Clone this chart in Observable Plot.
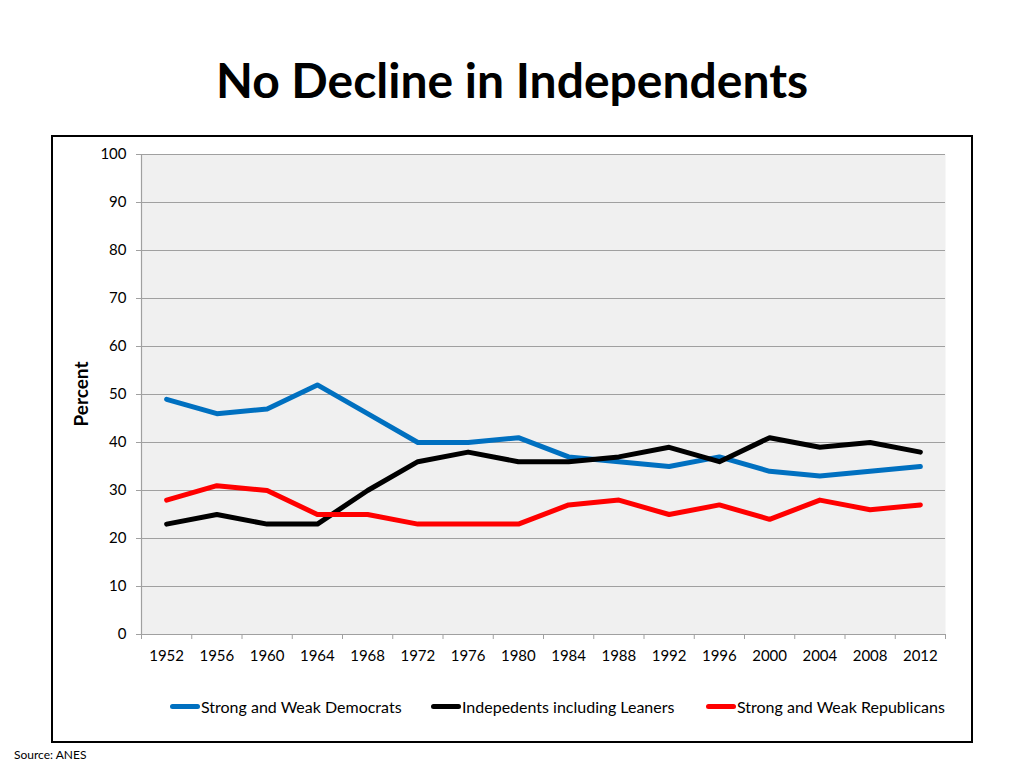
<!DOCTYPE html>
<html>
<head>
<meta charset="utf-8">
<script src="https://cdn.jsdelivr.net/npm/d3@7"></script>
<script src="https://cdn.jsdelivr.net/npm/@observablehq/plot@0.6"></script>
<style>
  body { margin: 0; background: #fff; font-family: Lato, "Open Sans", sans-serif; }
  #page { position: relative; width: 1024px; height: 768px; overflow: hidden; }
  #title { position: absolute; left: 0; width: 1024px; top: 51px; text-align: center; font-weight: bold; font-size: 48px; color: #000; }
  #box { position: absolute; left: 51px; top: 135px; width: 918px; height: 604px; border: 2px solid #000; }
  #chart { position: absolute; left: 52px; top: 136px; }
  #ylabel { position: absolute; left: 80px; top: 394px; transform: translate(-50%, -50%) rotate(-90deg); font-weight: bold; font-size: 19px; white-space: nowrap; }
  #legend { position: absolute; top: 697px; left: 0; width: 1024px; height: 20px; font-size: 16px; }
  .item { position: absolute; display: flex; align-items: center; white-space: nowrap; }
  .sw { width: 30px; height: 5px; border-radius: 3px; margin-right: 1px; }
  #source { position: absolute; left: 14px; top: 747px; font-size: 12px; }
</style>
</head>
<body>
<div id="page">
  <div id="title">No Decline in Independents</div>
  <div id="box"></div>
  <div id="chart"></div>
  <div id="ylabel">Percent</div>
  <div id="legend"></div>
  <div id="source">Source: ANES</div>
</div>
<script>
const years = [1952, 1956, 1960, 1964, 1968, 1972, 1976, 1980, 1984, 1988, 1992, 1996, 2000, 2004, 2008, 2012];
const seriesNames = ["Strong and Weak Democrats", "Indepedents including Leaners", "Strong and Weak Republicans"];
const democrats    = [49, 46, 47, 52, 46, 40, 40, 41, 37, 36, 35, 37, 34, 33, 34, 35];
const independents = [23, 25, 23, 23, 30, 36, 38, 36, 36, 37, 39, 36, 41, 39, 40, 38];
const republicans  = [28, 31, 30, 25, 25, 23, 23, 23, 27, 28, 25, 27, 24, 28, 26, 27];
const yTicks = [0, 10, 20, 30, 40, 50, 60, 70, 80, 90, 100];
const colors = ["#0070C0", "#000000", "#FF0000"];

const seriesValues = [democrats, independents, republicans];
const data = [];
seriesNames.forEach((s, i) => years.forEach((y, j) => data.push({series: s, year: y, value: seriesValues[i][j]})));

// category edges (half-way between survey years) for the tick marks
const step = years[1] - years[0];
const edges = [...years.map(y => y - step / 2), years[years.length - 1] + step / 2];
const xDomain = [edges[0], edges[edges.length - 1]];

const chart = Plot.plot({
  width: 920,
  height: 554,
  marginLeft: 89,
  marginRight: 27,
  marginTop: 18,
  marginBottom: 56,
  style: { fontFamily: "Lato, 'Open Sans', sans-serif", fontSize: "15px", color: "#000", background: "transparent", overflow: "visible" },
  x: { type: "linear", domain: xDomain },
  y: { domain: [yTicks[0], yTicks[yTicks.length - 1]] },
  color: { domain: seriesNames, range: colors },
  marks: [
    Plot.frame({ fill: "#f0f0f0", stroke: null }),
    Plot.ruleY(yTicks, { stroke: "#a0a0a0", strokeWidth: 1.2 }),
    Plot.ruleX([xDomain[0]], { stroke: "#a0a0a0", strokeWidth: 1.2 }),
    Plot.axisY({ ticks: yTicks, tickSize: 5, tickPadding: 10, stroke: "#a0a0a0", label: null, fontSize: 15 }),
    Plot.axisX({ ticks: edges, tickSize: 5, tickFormat: () => "", stroke: "#a0a0a0", label: null }),
    Plot.axisX({ ticks: years, tickSize: 0, tickPadding: 16, tickFormat: d => String(d), label: null, fontSize: 15 }),
    Plot.line(data, { x: "year", y: "value", z: "series", stroke: "series", strokeWidth: 5, strokeLinejoin: "round", strokeLinecap: "round" })
  ]
});
document.getElementById("chart").appendChild(chart);

// legend
const legendX = [170, 431, 706];
const legend = document.getElementById("legend");
seriesNames.forEach((s, i) => {
  const it = document.createElement("div");
  it.className = "item";
  it.style.left = legendX[i] + "px";
  it.style.top = "0px";
  it.innerHTML = `<span class="sw" style="background:${colors[i]}"></span><span>${s}</span>`;
  legend.appendChild(it);
});
</script>
</body>
</html>
